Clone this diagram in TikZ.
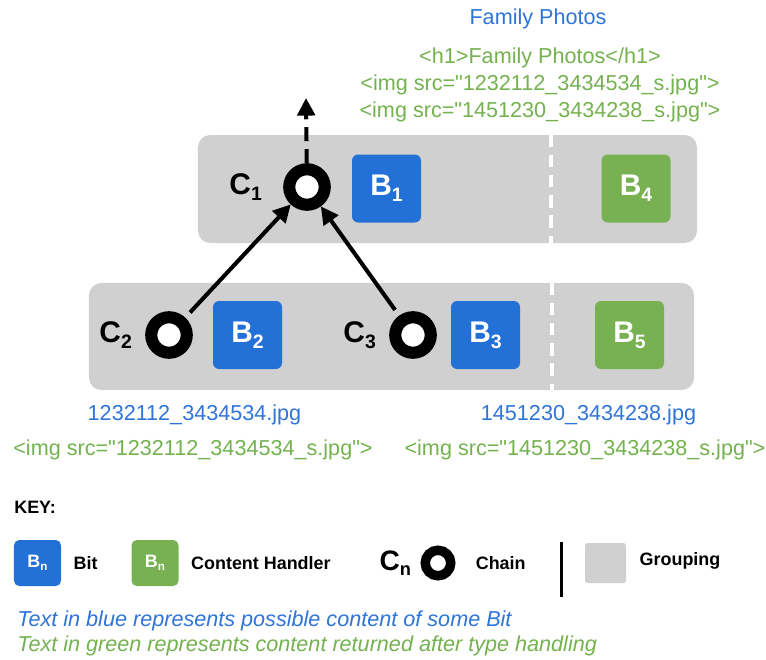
\documentclass[tikz,border=0pt]{standalone}
\usepackage{fontspec}
\setmainfont{Liberation Sans}[Ligatures=TeXOff]
\usepackage{tikz}
\usetikzlibrary{arrows.meta,positioning}
\definecolor{bitC}{HTML}{2370D6}
\definecolor{handlerC}{HTML}{77B151}
\definecolor{groupC}{HTML}{D0D0D0}
\definecolor{blueT}{HTML}{2F74D8}
\definecolor{greenT}{HTML}{73B24E}
\newcommand{\idx}[1]{\raisebox{-0.2em}{\scalebox{0.65}{#1}}}

\begin{document}
\begin{tikzpicture}[
  x=0.2mm, y=-0.2mm,
  group/.style={rounded corners=7pt,fill=groupC,inner sep=0},
  bit/.style={rounded corners=3.5pt,fill=bitC,text=white,inner sep=0,
              font=\fontsize{17}{17}\selectfont\bfseries,
              minimum width=1.38cm,minimum height=1.36cm},
  handler/.style={bit,fill=handlerC},
  keybit/.style={bit,rounded corners=3pt,font=\fontsize{10.2}{12}\selectfont\bfseries,
                 minimum width=0.94cm,minimum height=0.92cm},
  keyhandler/.style={keybit,fill=handlerC},
  chain/.style={circle,draw=black,fill=white,line width=6.9pt,
                minimum size=0.71cm,inner sep=0},
  keychain/.style={chain,line width=5.4pt,minimum size=0.51cm},
  clabel/.style={font=\fontsize{17}{17}\selectfont\bfseries,inner sep=0},
  arr/.style={-{Triangle[length=10pt,width=10pt]},line width=2.3pt},
  sep/.style={white,line width=2.4pt,dash pattern=on 7pt off 4.5pt},
  bittext/.style={text=blueT,font=\fontsize{12.3}{15.4}\selectfont,inner sep=0},
  handtext/.style={bittext,text=greenT,align=center},
  keytext/.style={font=\fontsize{10.2}{12}\selectfont\bfseries,inner sep=0}
]
  \useasboundingbox (0,0) rectangle (766,659);

  % Groupings
  \node[group,minimum width=9.98cm,minimum height=2.16cm] (grpTop) at (447.5,189) {};
  \node[group,minimum width=12.1cm,minimum height=2.14cm] (grpBot) at (391.5,336.5) {};
  \coordinate (sepTop) at (551,189);
  \coordinate (sepBot) at (552,336);
  \draw[sep] (sepTop |- grpTop.north) -- (sepTop |- grpTop.south);
  \draw[sep] (sepBot |- grpBot.north) -- (sepBot |- grpBot.south);

  % Top row
  \node[chain] (c1) at (307,187) {};
  \node[clabel,left=0.42cm of c1] (c1lbl) {C\idx{1}};
  \node[bit] (b1) at (386.5,188.5) {B\idx{1}};
  \node[handler] (b4) at (636,188.5) {B\idx{4}};

  % Bottom row
  \node[chain] (c2) at (169,335) {};
  \node[clabel,left=0.26cm of c2] (c2lbl) {C\idx{2}};
  \node[bit] (b2) at (247.5,335) {B\idx{2}};
  \node[chain] (c3) at (413,335) {};
  \node[clabel,left=0.26cm of c3] (c3lbl) {C\idx{3}};
  \node[bit] (b3) at (485.5,335) {B\idx{3}};
  \node[handler] (b5) at (629.5,335) {B\idx{5}};

  % Chain links
  \draw[arr,shorten <=4pt] (c2) -- (c1);
  \draw[arr,shorten <=4pt] (c3) -- (c1);
  \coordinate (out) at (306,98);
  \draw[arr,dash pattern=on 8pt off 4.5pt] (c1) -- (out);

  % Content of bits (blue) and handled content (green)
  \node[bittext] (title) at (538,19) {Family Photos};
  \node[handtext] (html) at (540,85)
    {<h1>Family Photos</h1>\\
     <img src="1232112\_3434534\_s.jpg">\\
     <img src="1451230\_3434238\_s.jpg">};
  \node[bittext] (file2) at (194.5,415) {1232112\_3434534.jpg};
  \node[handtext] (img2) at (193,450) {<img src="1232112\_3434534\_s.jpg">};
  \node[bittext] (file3) at (588.5,415) {1451230\_3434238.jpg};
  \node[handtext] (img3) at (585,450) {<img src="1451230\_3434238\_s.jpg">};

  % Key
  \node[keytext,anchor=west] (key) at (14,507) {KEY:};
  \node[keybit] (kbit) at (37.5,563) {B\idx{n}};
  \node[keytext,right=0.24cm of kbit] (kbitlbl) {Bit};
  \node[keyhandler] (khand) at (155,563) {B\idx{n}};
  \node[keytext,right=0.24cm of khand] (khandlbl) {Content Handler};
  \node[keychain] (kchain) at (438,563) {};
  \node[clabel,font=\fontsize{16}{16}\selectfont\bfseries,left=0.18cm of kchain] (kchainC) {C\idx{n}};
  \node[keytext,right=0.4cm of kchain] (kchainlbl) {Chain};
  \draw[line width=1.7pt] (561,542) -- (561,597);
  \node[fill=groupC,rounded corners=1.5pt,minimum width=0.82cm,minimum height=0.8cm,
        inner sep=0] (kgroup) at (605.5,563) {};
  \node[keytext,right=0.26cm of kgroup,yshift=1pt] (kgrouplbl) {Grouping};

  % Notes
  \node[bittext,anchor=west,font=\fontsize{12.3}{15}\selectfont\itshape] (noteB) at (17,621)
    {Text in blue represents possible content of some Bit};
  \node[bittext,text=greenT,anchor=west,font=\fontsize{12.3}{15}\selectfont\itshape] (noteG) at (17,646)
    {Text in green represents content returned after type handling};
\end{tikzpicture}
\end{document}
